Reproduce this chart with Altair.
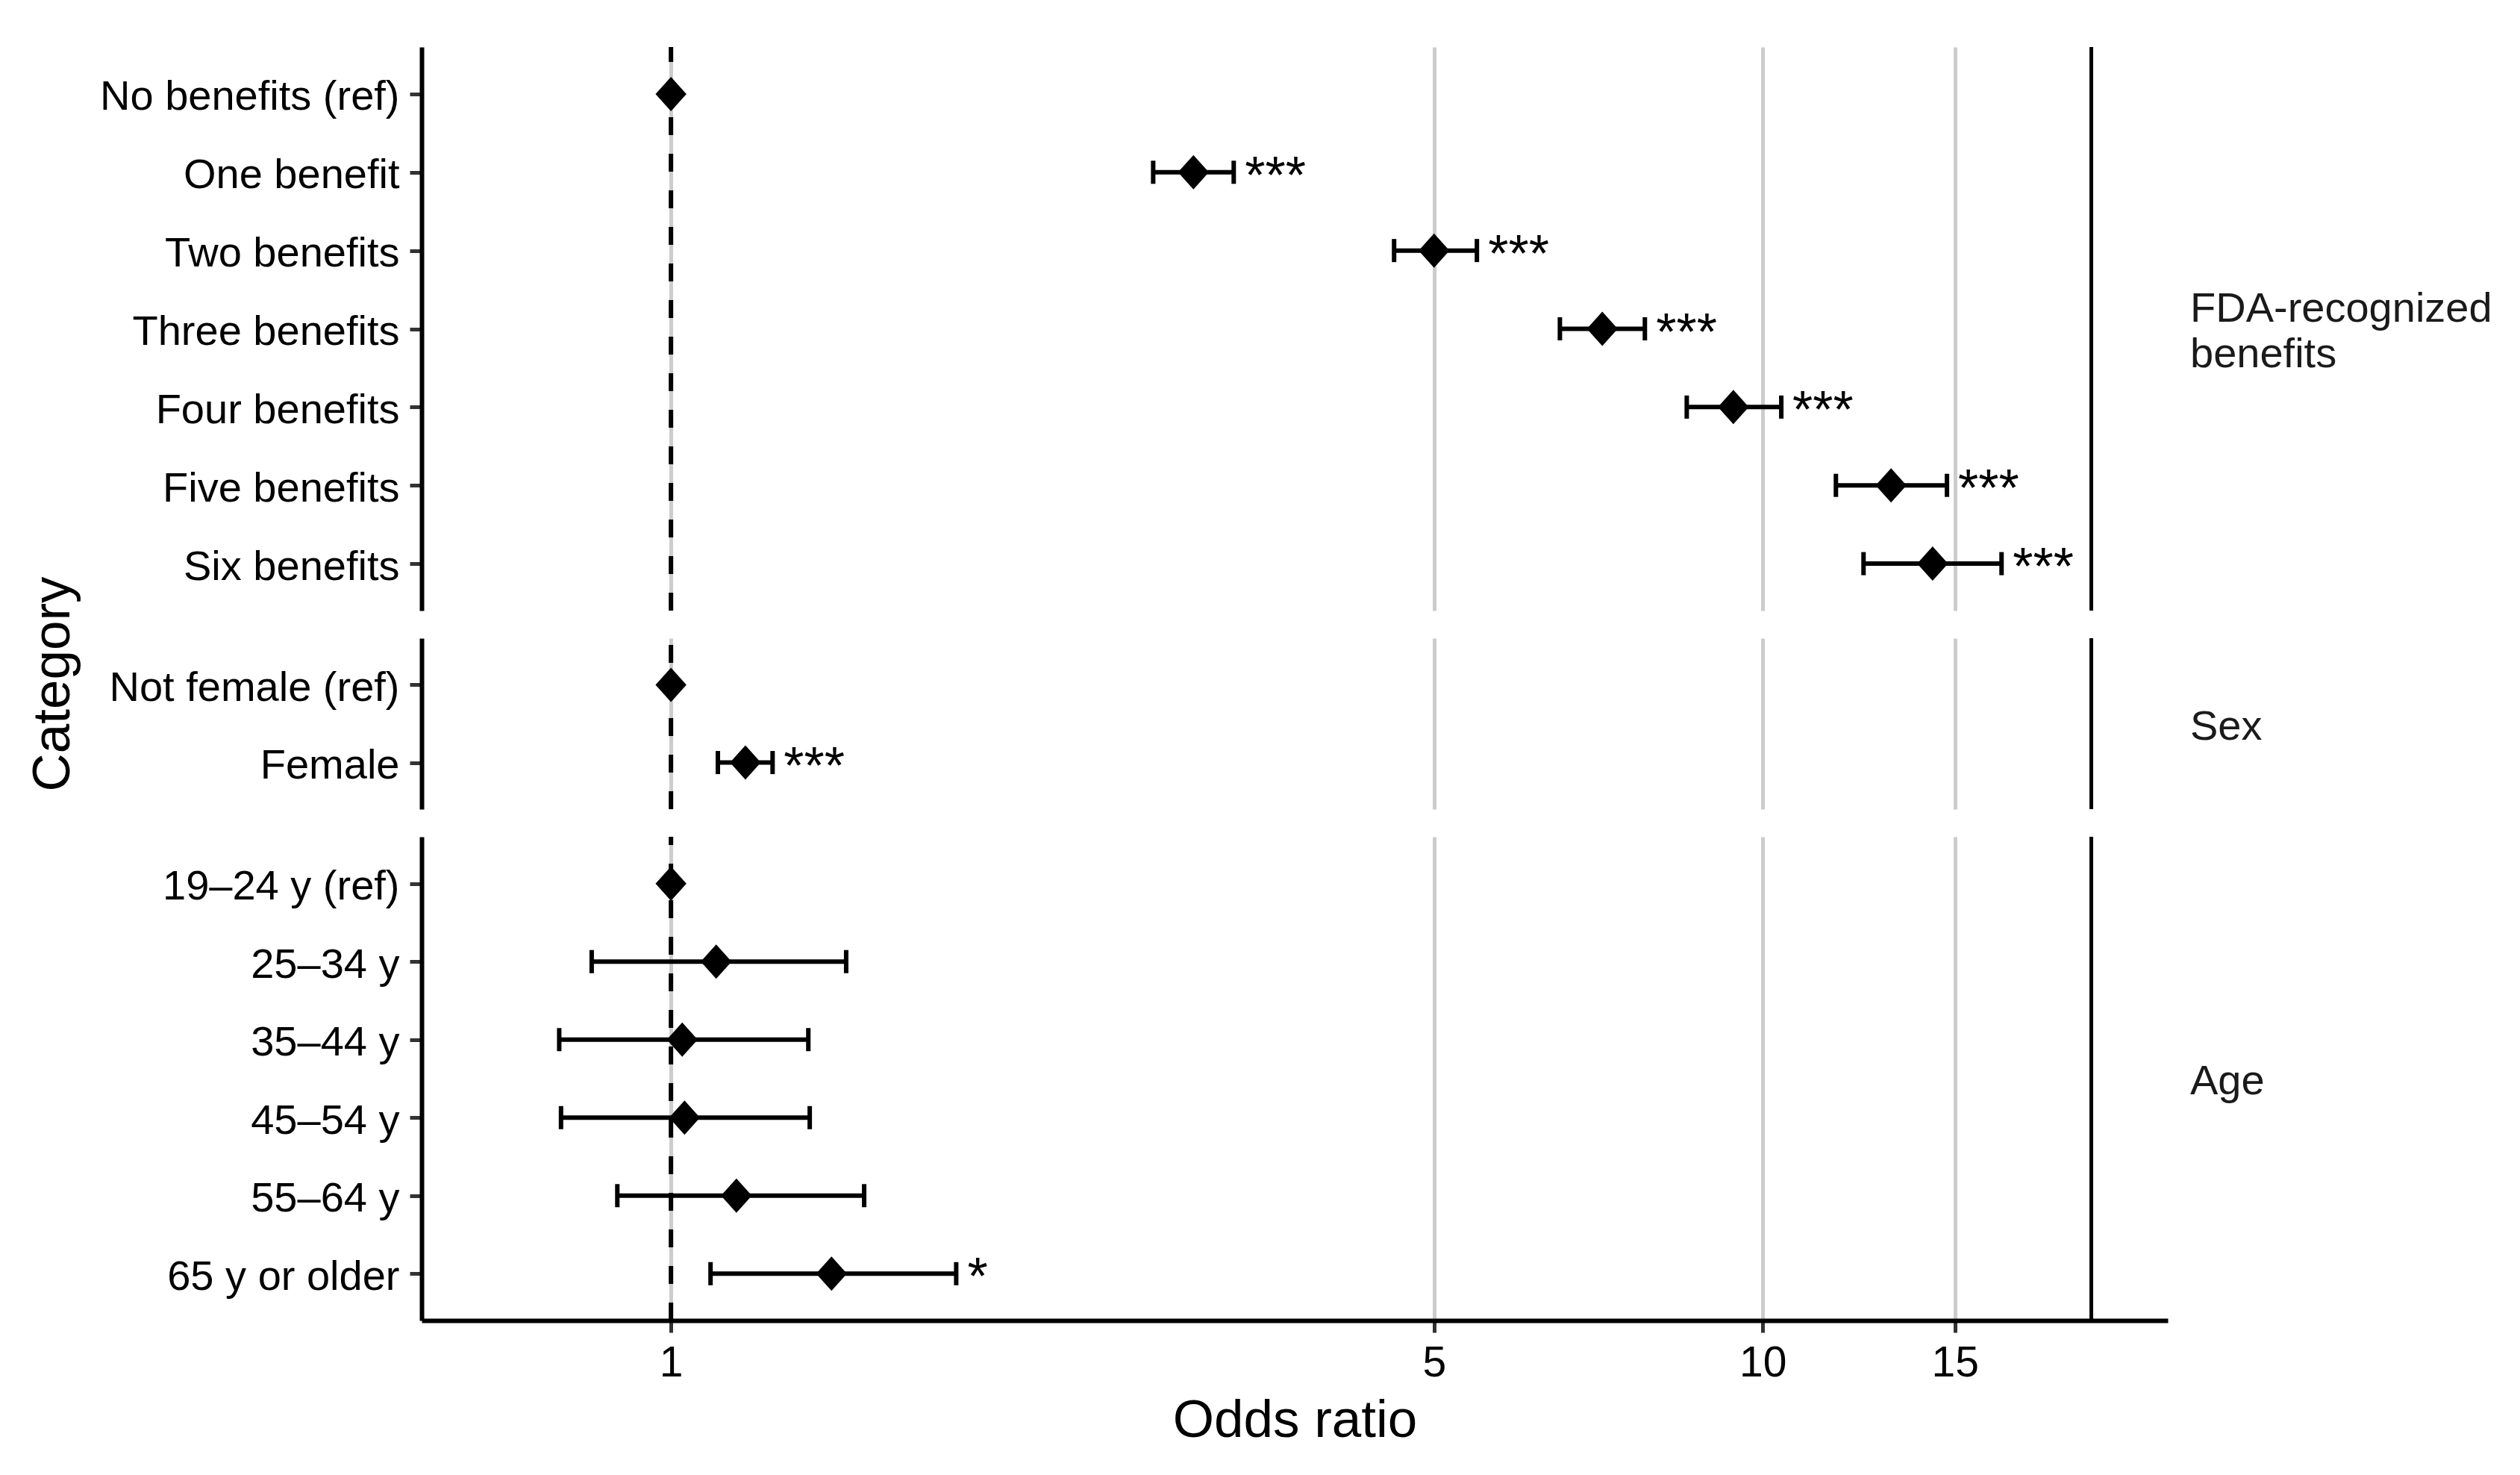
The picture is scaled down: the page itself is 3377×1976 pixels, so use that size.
import altair as alt
import pandas as pd

FONT = "Liberation Sans"

categories = [
    "No benefits (ref)", "One benefit", "Two benefits", "Three benefits",
    "Four benefits", "Five benefits", "Six benefits",
    "Not female (ref)", "Female",
    "19–24 y (ref)", "25–34 y", "35–44 y", "45–54 y", "55–64 y", "65 y or older",
]
groups = ["FDA"] * 7 + ["Sex"] * 2 + ["Age"] * 6
odds = [1.0, 3.01, 5.00, 7.13, 9.40, 13.11, 14.31,
        1.0, 1.17,
        1.0, 1.10, 1.024, 1.029, 1.148, 1.403]
lower = [None, 2.765, 4.596, 6.52, 8.52, 11.67, 12.37,
         None, 1.104,
         None, 0.846, 0.790, 0.793, 0.893, 1.087]
upper = [None, 3.277, 5.473, 7.80, 10.40, 14.75, 16.55,
         None, 1.239,
         None, 1.447, 1.336, 1.340, 1.503, 1.825]
sig = ["", "***", "***", "***", "***", "***", "***",
       "", "***",
       "", "", "", "", "", "*"]

group_keys = ["FDA", "Sex", "Age"]
group_labels = ["FDA-recognized\nbenefits", "Sex", "Age"]
panel_heights = [755, 229, 648]

x_ticks = [1, 5, 10, 15]
x_domain = [0.591, 23.5]
ref_line = [1]
limit_line = [20]

df = pd.DataFrame({"category": categories, "group": groups, "odds": odds,
                   "lower": lower, "upper": upper, "sig": sig})

W = 2340
LINE_H = 61


def make_panel(gkey, label, height, bottom, with_title):
    d = df[df["group"] == gkey].reset_index(drop=True)
    cats = list(d["category"])
    yscale = alt.Scale(type="point", domain=cats, padding=0.6)
    xscale = alt.Scale(type="log", domain=x_domain, nice=False)
    if bottom:
        xaxis = alt.Axis(values=x_ticks, format="~g", title="Odds ratio",
                         labelFontSize=57, labelColor="black", labelPadding=13,
                         labelFlush=False, labelOverlap=False,
                         tickSize=16, tickWidth=5, tickColor="#333333",
                         domainColor="black", domainWidth=6,
                         titleFontSize=71, titleFontWeight="normal", titleColor="black",
                         titlePadding=14,
                         grid=True, gridColor="#CCCCCC", gridWidth=5)
    else:
        xaxis = alt.Axis(values=x_ticks, labels=False, ticks=False, domain=False,
                         title=None, grid=True, gridColor="#CCCCCC", gridWidth=5)
    yaxis_kw = dict(labelFontSize=56, labelColor="black", labelPadding=14,
                    labelOffset=4, labelLimit=0, tickSize=16, tickWidth=5,
                    tickColor="#333333", domainColor="black", domainWidth=6,
                    grid=False)
    if with_title:
        yaxis = alt.Axis(title="Category", titleFontSize=71, titleFontWeight="normal",
                         titleColor="black", titleX=-473, titleY=61, titleAngle=270,
                         titleBaseline="alphabetic", titleAlign="center", **yaxis_kw)
    else:
        yaxis = alt.Axis(title=None, **yaxis_kw)

    Y = alt.Y("category:N", scale=yscale, axis=yaxis, sort=cats)

    dashed = alt.Chart(pd.DataFrame({"v": ref_line})).mark_rule(
        color="black", strokeWidth=6, strokeDash=[24, 25]
    ).encode(x=alt.X("v:Q", scale=xscale, axis=xaxis),
             y=alt.value(height), y2=alt.value(0))

    limit = alt.Chart(pd.DataFrame({"v": limit_line})).mark_rule(
        color="black", strokeWidth=5
    ).encode(x=alt.X("v:Q", scale=xscale, axis=xaxis))

    ci = d.dropna(subset=["lower"])
    bars = alt.Chart(ci).mark_rule(color="black", strokeWidth=6).encode(
        x=alt.X("lower:Q", scale=xscale, axis=xaxis), x2="upper:Q", y=Y)
    cap_lo = alt.Chart(ci).mark_tick(color="black", thickness=6, size=31, opacity=1).encode(
        x=alt.X("lower:Q", scale=xscale, axis=xaxis), y=Y)
    cap_hi = alt.Chart(ci).mark_tick(color="black", thickness=6, size=31, opacity=1).encode(
        x=alt.X("upper:Q", scale=xscale, axis=xaxis), y=Y)

    pts = alt.Chart(d).mark_point(
        shape="M0,-1L0.9,0L0,1L-0.9,0Z", filled=True, size=2116,
        color="black", opacity=1, strokeWidth=0
    ).encode(x=alt.X("odds:Q", scale=xscale, axis=xaxis), y=Y)

    sg = d[d["sig"] != ""]
    stars = alt.Chart(sg).mark_text(
        align="left", baseline="alphabetic", dx=15, dy=28,
        fontSize=70, font=FONT, color="black"
    ).encode(x=alt.X("upper:Q", scale=xscale, axis=xaxis), y=Y, text="sig:N")

    n_lines = label.count("\n") + 1
    strip_y = height / 2 + 4 - (n_lines - 1) * LINE_H / 2
    strip = alt.Chart(pd.DataFrame({"t": [label]})).mark_text(
        align="left", baseline="middle", fontSize=56, font=FONT,
        color="#1A1A1A", lineBreak="\n", lineHeight=LINE_H
    ).encode(x=alt.value(W + 30), y=alt.value(strip_y), text="t:N")

    layers = [dashed, limit, bars, cap_lo, cap_hi, pts]
    if len(sg):
        layers.append(stars)
    layers.append(strip)
    return alt.layer(*layers).properties(width=W, height=height)


panels = []
for i, (k, lab, h) in enumerate(zip(group_keys, group_labels, panel_heights)):
    panels.append(make_panel(k, lab, h, bottom=(i == 2), with_title=(i == 1)))

chart = alt.vconcat(*panels, spacing=37, bounds="flush").resolve_scale(
    x="independent", y="independent"
).properties(
    padding={"left": 27, "top": 52, "right": 5, "bottom": 5},
    background="white",
).configure_view(stroke=None).configure_axis(
    labelFont=FONT, titleFont=FONT
)

chart.save("out.html", embed_options={"renderer": "svg", "actions": False})
